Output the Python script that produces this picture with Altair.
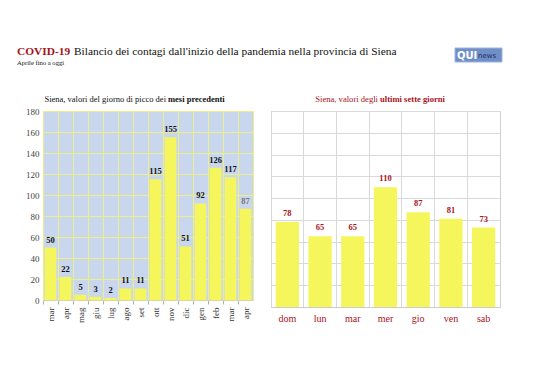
import altair as alt
import pandas as pd

# ---- data ----
months = ["mar", "apr", "mag", "giu", "lug", "ago", "set", "ott", "nov", "dic", "gen", "feb", "mar", "apr"]
peaks = [50, 22, 5, 3, 2, 11, 11, 115, 155, 51, 92, 126, 117, 87]
days = ["dom", "lun", "mar", "mer", "gio", "ven", "sab"]
week = [78, 65, 65, 110, 87, 81, 73]

FONT = "Liberation Serif"
RED = "#a8121a"
YELLOW = "#f5f55c"

left_df = pd.DataFrame({"key": [f"{i:02d} {m}" for i, m in enumerate(months)], "v": peaks})
left_df["last"] = [i == len(months) - 1 for i in range(len(months))]
right_df = pd.DataFrame({"key": [f"{i:02d} {d}" for i, d in enumerate(days)], "v": week})

# ---- left panel ----
lx = alt.X("key:O", sort=None, title=None,
           scale=alt.Scale(paddingInner=0, paddingOuter=0),
           axis=alt.Axis(labelExpr="split(datum.label,' ')[1]", labelAngle=-90,
                         labelFont=FONT, labelFontSize=9, labelColor="#333333",
                         labelPadding=3, bandPosition=0, grid=True, gridColor="#eeee88",
                         gridWidth=1, domainColor="#d8d8a0", tickColor="#b0b0b0",
                         tickSize=4))
ly = alt.Y("v:Q", title=None, scale=alt.Scale(domain=[0, 180], nice=False),
           axis=alt.Axis(values=list(range(0, 181, 20)), grid=True, gridColor="#eeee88",
                         domain=False, ticks=False, labelFont=FONT, labelFontSize=9,
                         labelColor="#444444", labelPadding=4))
lbase = alt.Chart(left_df).encode(x=lx, y=ly)
lbars = lbase.mark_bar(color=YELLOW, width=alt.RelativeBandSize(0.78))
ltext = lbase.mark_text(font=FONT, fontSize=8.5, fontWeight="bold", baseline="bottom", dy=-3).encode(
    text="v:Q",
    color=alt.condition("datum.last", alt.value("#777777"), alt.value("#111111")),
)
left = alt.layer(lbars, ltext).properties(
    width=210, height=189,
    view=alt.ViewBackground(fill="#c8d6ee", stroke="#eeee88"),
)

# ---- right panel ----
rx = alt.X("key:O", sort=None, title=None,
           scale=alt.Scale(paddingInner=0, paddingOuter=0),
           axis=alt.Axis(labelExpr="split(datum.label,' ')[1]", labelAngle=0,
                         labelFont=FONT, labelFontSize=10, labelColor=RED,
                         labelPadding=6, bandPosition=0, grid=True, gridColor="#d9d9d9",
                         domainColor="#cccccc", ticks=False))
ry = alt.Y("v:Q", title=None, scale=alt.Scale(domain=[0, 180], nice=False),
           axis=alt.Axis(values=list(range(0, 181, 20)), grid=True, gridColor="#d9d9d9",
                         domain=False, ticks=False, labels=False))
rbase = alt.Chart(right_df).encode(x=rx, y=ry)
rbars = rbase.mark_bar(color=YELLOW, width=alt.RelativeBandSize(0.71))
rtext = rbase.mark_text(font=FONT, fontSize=8.5, fontWeight="bold", baseline="bottom",
                        dy=-4, color=RED).encode(text="v:Q")
right = alt.layer(rbars, rtext).properties(
    width=229, height=196,
    view=alt.ViewBackground(fill="white", stroke="#d0d0d0"),
)

# ---- header (titles, logo) ----
hdr = pd.DataFrame({"a": [0]})
OX, OY = 43, 8  # absolute page origin of the header group


def txt(s, x, y, size, color="#111111", weight="normal", align="left"):
    return alt.Chart(hdr).mark_text(text=s, font=FONT, fontSize=size, color=color,
                                    fontWeight=weight, align=align, baseline="alphabetic").encode(
        x=alt.value(x - OX), y=alt.value(y - OY))


logo = alt.Chart(hdr).mark_rect(color="#6f8fc8", stroke="#9fb4dc").encode(
    x=alt.value(455 - OX), x2=alt.value(502 - OX), y=alt.value(48 - OY), y2=alt.value(62 - OY))
header = alt.layer(
    txt("COVID-19", 17, 55, 11.4, RED, "bold"),
    txt("Bilancio dei contagi dall'inizio della pandemia nella provincia di Siena", 74, 55, 11.4),
    txt("Aprile fino a oggi", 17, 65, 6.6),
    txt("Siena, valori del giorno di picco dei", 166, 102, 8.5, align="right"),
    txt("mesi precedenti", 168, 102, 8.5, weight="bold"),
    txt("Siena, valori degli", 378, 102, 8.6, RED, align="right"),
    txt("ultimi sette giorni", 380, 102, 8.6, RED, weight="bold"),
    logo,
    alt.Chart(hdr).mark_text(text="QUI", font="DejaVu Sans", fontSize=10, fontWeight="bold",
                             color="white", align="left", baseline="middle").encode(
        x=alt.value(457 - OX), y=alt.value(56 - OY)),
    alt.Chart(hdr).mark_text(text="news", font="DejaVu Sans", fontSize=7, color="#1c2f66",
                             align="left", baseline="middle").encode(
        x=alt.value(478 - OX), y=alt.value(56 - OY)),
).properties(width=457, height=97, view=alt.ViewBackground(strokeOpacity=0))

row = alt.hconcat(left, right, spacing=18, bounds="flush")
chart = alt.vconcat(header, row, spacing=6, bounds="flush").properties(
    padding={"left": 9, "top": 0, "right": 0, "bottom": 0},
    background="white",
)

chart.save("out.html", embed_options={"renderer": "svg", "actions": False})
